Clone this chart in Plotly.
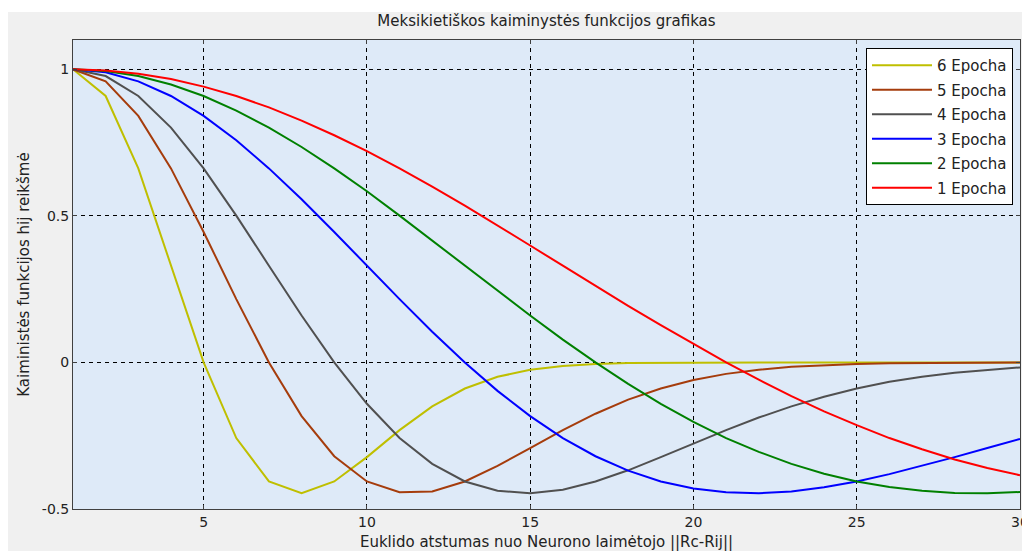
import plotly.graph_objects as go

# Distance axis (1..30) and neighbourhood function values for each epoch
distance = list(range(1, 31))

epoch6 = [1.0, 0.909, 0.662, 0.330, 0.0, -0.258, -0.406, -0.446, -0.406, -0.323,
          -0.231, -0.150, -0.089, -0.049, -0.025, -0.012, -0.005, -0.002, -0.001, 0.0,
          0.0, 0.0, 0.0, 0.0, 0.0, 0.0, 0.0, 0.0, 0.0, 0.0]
epoch5 = [1.0, 0.959, 0.841, 0.662, 0.445, 0.216, 0.0, -0.183, -0.320, -0.406,
          -0.443, -0.440, -0.406, -0.353, -0.292, -0.231, -0.175, -0.127, -0.089, -0.060,
          -0.039, -0.025, -0.015, -0.009, -0.005, -0.003, -0.002, -0.001, 0.0, 0.0]
epoch4 = [1.0, 0.977, 0.909, 0.801, 0.662, 0.501, 0.330, 0.160, 0.0, -0.141,
          -0.258, -0.346, -0.406, -0.438, -0.446, -0.434, -0.406, -0.368, -0.323, -0.277,
          -0.231, -0.188, -0.150, -0.117, -0.089, -0.066, -0.049, -0.035, -0.025, -0.017]
epoch3 = [1.0, 0.990, 0.959, 0.909, 0.841, 0.758, 0.662, 0.557, 0.445, 0.330,
          0.216, 0.105, 0.0, -0.097, -0.183, -0.258, -0.320, -0.369, -0.406, -0.430,
          -0.443, -0.446, -0.440, -0.426, -0.406, -0.381, -0.353, -0.323, -0.292, -0.261]
epoch2 = [1.0, 0.994, 0.977, 0.948, 0.909, 0.859, 0.801, 0.735, 0.662, 0.584,
          0.501, 0.416, 0.330, 0.244, 0.160, 0.078, 0.0, -0.073, -0.141, -0.203,
          -0.258, -0.305, -0.346, -0.380, -0.406, -0.425, -0.438, -0.445, -0.446, -0.442]
epoch1 = [1.0, 0.996, 0.985, 0.967, 0.941, 0.909, 0.870, 0.825, 0.775, 0.721,
          0.662, 0.600, 0.535, 0.468, 0.399, 0.330, 0.261, 0.193, 0.127, 0.062,
          0.0, -0.059, -0.115, -0.167, -0.214, -0.258, -0.296, -0.331, -0.360, -0.385]

series = [
    ("6 Epocha", epoch6, "#BFBF00"),
    ("5 Epocha", epoch5, "#A53C0C"),
    ("4 Epocha", epoch4, "#505050"),
    ("3 Epocha", epoch3, "#0000FF"),
    ("2 Epocha", epoch2, "#008000"),
    ("1 Epocha", epoch1, "#FF0000"),
]

x_ticks = [5, 10, 15, 20, 25, 30]
y_ticks = [-0.5, 0, 0.5, 1]

FONT = "DejaVu Sans, Verdana, sans-serif"
TEXT = "#222222"

fig = go.Figure()
for i, (name, values, color) in enumerate(series):
    fig.add_trace(go.Scatter(
        x=distance, y=values, mode="lines", name=name,
        legendgroup=f"g{i}",
        line=dict(color=color, width=2),
    ))

axis_common = dict(
    showline=True, linecolor="#404040", linewidth=1, mirror="ticks",
    ticks="inside", ticklen=4, tickcolor="#404040",
    showgrid=True, gridcolor="#000000", gridwidth=1, griddash="4px,4px",
    zeroline=False, ticklabeloverflow="allow", automargin=False,
    tickfont=dict(family=FONT, size=14, color=TEXT),
)

fig.update_layout(
    width=1022, height=551,
    margin=dict(l=73, r=2, t=40, b=42),
    paper_bgcolor="#F0F0F0",
    plot_bgcolor="#DEEAF8",
    font=dict(family=FONT, size=15, color=TEXT),
    title=dict(text="Meksikietiškos kaiminystės funkcijos grafikas",
               x=0.5347, xanchor="center", y=0.963, yanchor="middle",
               font=dict(size=15, color=TEXT)),
    xaxis=dict(range=[1, 30], tickvals=x_ticks, ticktext=[str(v) for v in x_ticks],
               title=dict(text="Euklido atstumas nuo Neurono laimėtojo ||Rc-Rij||",
                          standoff=18, font=dict(size=15)),
               **axis_common),
    yaxis=dict(range=[-0.5, 1.1], tickvals=y_ticks, ticktext=["-0.5", "0", "0.5", "1"],
               title=dict(text="Kaiministės funkcijos hij reikšmė", standoff=8,
                          font=dict(size=15)),
               **axis_common),
    legend=dict(
        x=0.9926, xanchor="right", y=0.983, yanchor="top",
        bgcolor="#FFFFFF", bordercolor="#000000", borderwidth=1,
        font=dict(size=15, color=TEXT),
        traceorder="grouped", tracegroupgap=2, itemwidth=60,
    ),
    showlegend=True,
    shapes=[
        # white strips along the top and left edges of the window
        dict(type="rect", xref="paper", yref="paper",
             x0=-0.2, x1=1.1, y0=(509 - 12) / 469, y1=1.2,
             fillcolor="#FFFFFF", line=dict(width=0), layer="below"),
        dict(type="rect", xref="paper", yref="paper",
             x0=-0.2, x1=(8 - 73) / 947, y0=-0.2, y1=1.2,
             fillcolor="#FFFFFF", line=dict(width=0), layer="below"),
    ],
)

fig.write_html("out.html")
